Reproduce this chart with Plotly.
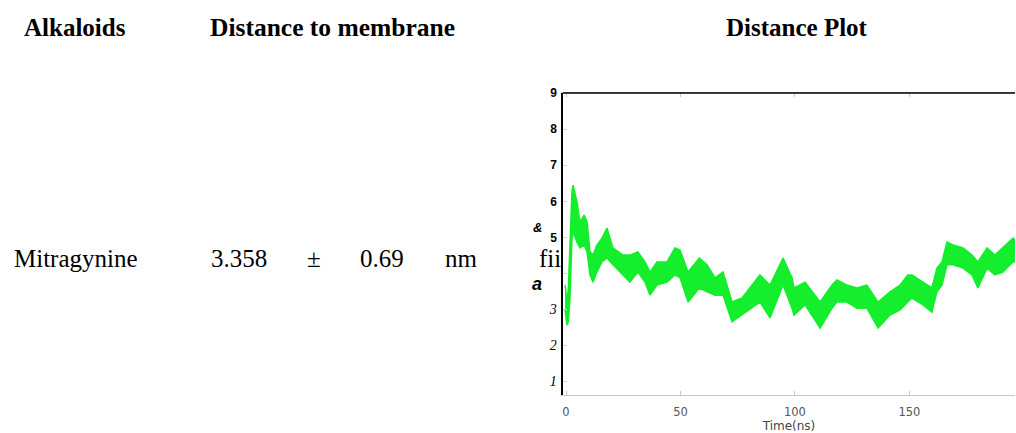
import plotly.graph_objects as go

# ---- data ----
time_ns = [-0.4, 0.4, 1.0, 1.7, 2.6, 3.1, 4.8, 6.1, 7.9, 9.2, 10.5, 11.8, 13.5, 15.7, 17.9,
           20.5, 24.9, 27.9, 31.4, 34.5, 36.7, 39.7, 44.1, 47.6, 49.8, 53.3, 58.2, 61.6,
           65.1, 68.6, 72.5, 76.9, 81.2, 84.7, 89.1, 94.8, 98.7, 99.6, 104.4, 111.0,
           116.2, 118.3, 122.7, 127.1, 131.4, 136.3, 141.5, 145.9, 149.3, 151.1, 155.9,
           159.8, 162.0, 164.2, 166.4, 169.0, 173.4, 177.3, 179.9, 183.9, 187.3, 190.8,
           195.2, 196.5]
dist_upper = [3.68, 3.27, 3.54, 4.93, 6.26, 6.45, 5.98, 5.43, 5.62, 5.43, 4.60, 4.51, 4.79,
              4.98, 5.26, 4.71, 4.51, 4.51, 4.60, 4.32, 4.04, 4.32, 4.32, 4.71, 4.65, 4.04,
              4.43, 4.24, 3.88, 4.04, 3.21, 3.32, 3.68, 3.96, 3.68, 4.43, 3.88, 3.60, 3.76,
              3.21, 3.68, 3.82, 3.68, 3.60, 3.68, 3.21, 3.49, 3.68, 3.96, 3.96, 3.76, 3.60,
              4.15, 4.32, 4.87, 4.79, 4.71, 4.51, 4.32, 4.71, 4.51, 4.71, 4.98, 4.93]
dist_lower = [2.99, 2.57, 2.66, 3.27, 4.93, 5.15, 4.87, 4.71, 4.79, 4.60, 3.96, 3.76, 4.04,
              4.32, 4.43, 4.24, 3.96, 3.76, 4.04, 3.76, 3.40, 3.68, 3.76, 3.96, 3.88, 3.21,
              3.60, 3.49, 3.40, 3.40, 2.66, 2.85, 3.04, 3.21, 2.77, 3.68, 3.04, 2.85, 3.13,
              2.49, 3.04, 3.21, 3.21, 3.04, 3.04, 2.49, 2.85, 2.99, 3.21, 3.32, 3.13, 2.93,
              3.49, 3.68, 4.24, 4.24, 4.15, 3.96, 3.60, 4.15, 3.96, 4.04, 4.32, 4.32]

x_ticks = [0, 50, 100, 150, 200]
y_ticks = [1, 2, 3, 4, 5, 6, 7, 8, 9]

headers = ["Alkaloids", "Distance to membrane", "Distance Plot"]
row_name = "Mitragynine"
row_mean = "3.358"
row_pm = "±"
row_sd = "0.69"
row_unit = "nm"

GREEN = "#14ee2c"
serif = "Liberation Serif, Times New Roman, serif"
sans = "Liberation Sans, Arial, sans-serif"

L, R, T, B = 563, 1, 93, 38
W, H = 1016, 433
PW = W - L - R
PH = H - T - B


def px(xp):
    return (xp - L) / PW


def py(yp):
    return (H - B - yp) / PH


def ylab(v):
    if v == 4:
        return ""
    if v <= 3:
        return f'<span style="font-family:{serif};font-size:14px"><i>{v}</i></span>'
    return f'<b>{v}</b>'


fig = go.Figure()
fig.add_trace(go.Scatter(x=time_ns, y=dist_lower, mode="lines",
                         line=dict(color=GREEN, width=1.5), hoverinfo="skip", showlegend=False))
fig.add_trace(go.Scatter(x=time_ns, y=dist_upper, mode="lines", fill="tonexty",
                         fillcolor=GREEN, line=dict(color=GREEN, width=1.5),
                         showlegend=False))

fig.update_layout(
    width=W, height=H,
    margin=dict(l=L, r=R, t=T, b=B, pad=0),
    paper_bgcolor="white", plot_bgcolor="white",
    xaxis=dict(range=[-1.31, 196.1], tickvals=x_ticks, ticktext=[str(v) for v in x_ticks],
               showgrid=False, zeroline=False, showline=True, linecolor="#c8c8c8",
               linewidth=1, mirror="ticks", ticks="inside", ticklen=4, tickcolor="#c8c8c8",
               tickfont=dict(family="DejaVu Sans, sans-serif", size=11.5, color="#555"),
               ticklabelstandoff=6,
               title=dict(text="Time(ns)", font=dict(family="DejaVu Sans, sans-serif", size=12,
                                                     color="#444"), standoff=6)),
    yaxis=dict(range=[0.635, 9], tickvals=y_ticks, ticktext=[ylab(v) for v in y_ticks],
               showgrid=False, zeroline=False, showline=True, linecolor="black",
               linewidth=1.5, ticks="inside", ticklen=4, tickcolor="#d0d0d0",
               tickfont=dict(family=sans, size=12, color="black"), ticklabelstandoff=2),
    shapes=[dict(type="line", xref="paper", yref="paper", x0=0, x1=1, y0=1, y1=1,
                 line=dict(color="black", width=1.5))],
)

ann = []
def text(s, xp, yp, font, size, bold=False, italic=False, color="black", anchor="left"):
    t = s
    if bold:
        t = f"<b>{t}</b>"
    if italic:
        t = f"<i>{t}</i>"
    ann.append(dict(text=t, x=px(xp), y=py(yp), xref="paper", yref="paper",
                    xanchor=anchor, yanchor="middle", showarrow=False,
                    font=dict(family=font, size=size, color=color)))

text(headers[0], 22, 28, serif, 25, bold=True)
text(headers[1], 208, 28, serif, 25.5, bold=True)
text(headers[2], 724, 28, serif, 25, bold=True)
text(row_name, 12, 258, serif, 25)
text(row_mean, 209, 258, serif, 25)
text(row_pm, 314, 258, serif, 25, anchor="center")
text(row_sd, 358, 258, serif, 25)
text(row_unit, 443, 258, serif, 25)
text("fii", 537, 258, serif, 25)
text("&", 537, 227, sans, 13, bold=True, italic=True, anchor="center")
text("a", 537, 284, sans, 18, bold=True, italic=True, anchor="center")
fig.update_layout(annotations=ann)

fig.write_html("out.html")
